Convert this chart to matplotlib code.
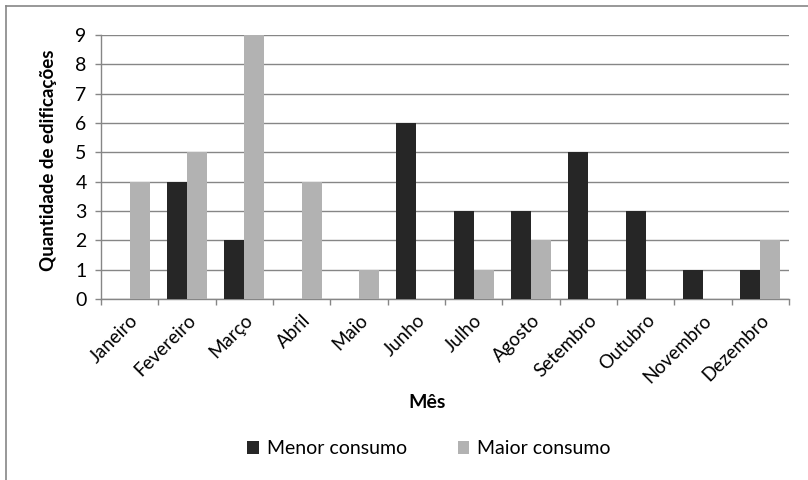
import matplotlib
matplotlib.use("Agg")
import matplotlib.pyplot as plt
import numpy as np
from matplotlib.patches import Patch
from matplotlib.lines import Line2D

months = ["Janeiro", "Fevereiro", "Março", "Abril", "Maio", "Junho",
          "Julho", "Agosto", "Setembro", "Outubro", "Novembro", "Dezembro"]
menor = [0, 4, 2, 0, 0, 6, 3, 3, 5, 3, 1, 1]
maior = [4, 5, 9, 4, 1, 0, 1, 2, 0, 0, 0, 2]
yticks = list(range(0, 10))

plt.rcParams['font.family'] = ['Lato', 'DejaVu Sans']

fig = plt.figure(figsize=(8.08, 4.8), dpi=100)
W, H = 808, 480
ax = fig.add_axes([101 / W, 1 - 299 / H, (789 - 101) / W, (299 - 35) / H])

dark = "#262626"
light = "#b2b2b2"
x = np.arange(len(months))
bw = 0.348
ax.bar(x - bw / 2, menor, bw, color=dark, zorder=3, label="Menor consumo")
ax.bar(x + bw / 2, maior, bw, color=light, zorder=3, label="Maior consumo")

ax.set_xlim(-0.5, len(months) - 0.5)
ax.set_ylim(0, 9)
ax.set_yticks(yticks)
ax.set_yticklabels([str(v) for v in yticks], fontsize=14)
ax.yaxis.grid(True, color="#868686", linewidth=1.0, zorder=0)
ax.set_axisbelow(True)

ax.set_xticks(np.arange(-0.5, len(months), 1.0))
ax.set_xticklabels([])
ax.set_xticks(x, minor=True)
ax.set_xticklabels(months, minor=True, rotation=45, ha="right", va="top",
                   rotation_mode="anchor", fontsize=13.5)
ax.tick_params(axis="x", which="minor", length=0, pad=9)
ax.tick_params(axis="x", which="major", length=4.3, color="#868686", width=1)
ax.tick_params(axis="y", length=4.3, color="#868686", width=1, pad=6)

for s in ["top", "right"]:
    ax.spines[s].set_visible(False)
for s in ["left", "bottom"]:
    ax.spines[s].set_color("#868686")
    ax.spines[s].set_linewidth(1.0)

fig.text(49 / W, 1 - 160 / H, "Quantidade de edificações", rotation=90,
         ha="center", va="center", fontsize=13.5, fontweight="bold")
fig.text(427 / W, 1 - 403 / H, "Mês", ha="center", va="center",
         fontsize=14, fontweight="bold")

handles = [Patch(facecolor=dark, edgecolor="none"),
           Patch(facecolor=light, edgecolor="none")]
fig.legend(handles, ["Menor consumo", "Maior consumo"], loc="center",
           bbox_to_anchor=(429 / W, 1 - 449 / H), ncol=2, frameon=False,
           fontsize=14, handlelength=0.6, handleheight=0.6,
           handletextpad=0.4, columnspacing=2.6)

# outer chart frame (left and top edges visible)
fig.add_artist(Line2D([5.5 / W, 5.5 / W], [0, 1 - 6 / H], color="#868686",
                      linewidth=1.2, transform=fig.transFigure))
fig.add_artist(Line2D([5.5 / W, 1], [1 - 6 / H, 1 - 6 / H], color="#868686",
                      linewidth=1.2, transform=fig.transFigure))

fig.savefig("out.png", dpi=100, facecolor="white")
